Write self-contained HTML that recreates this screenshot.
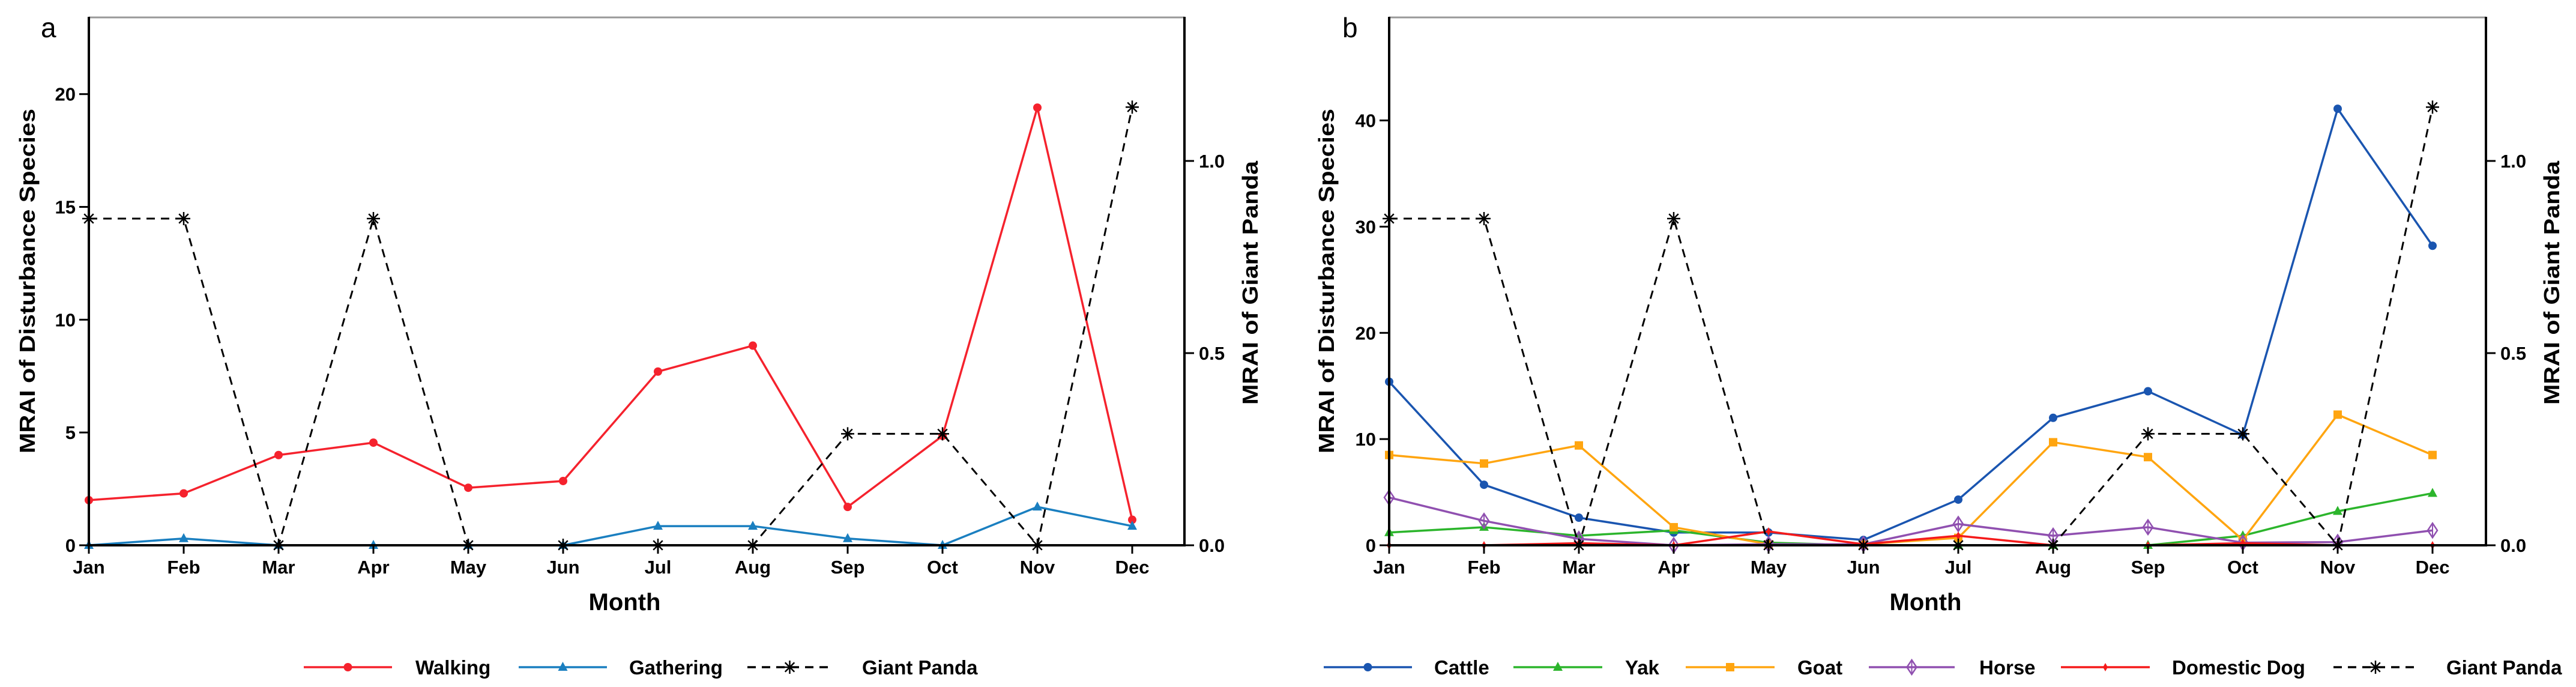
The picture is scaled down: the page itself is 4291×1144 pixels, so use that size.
<!DOCTYPE html>
<html><head><meta charset="utf-8"><style>
html,body{margin:0;padding:0;background:#fff;}
svg{display:block;}
text{font-family:"Liberation Sans",Arial,sans-serif;}
</style></head><body>
<svg id="chart" width="4291" height="1144" viewBox="0 0 4291 1144" xmlns="http://www.w3.org/2000/svg">
<rect width="4291" height="1144" fill="#fff"/>
</svg>
<script>
const months = ["Jan","Feb","Mar","Apr","May","Jun","Jul","Aug","Sep","Oct","Nov","Dec"];
const pandaVals = [0.85,0.85,0,0.85,0,0,0,0,0.29,0.29,0,1.14];
const walkingVals = [2.0,2.3,4.0,4.55,2.55,2.85,7.7,8.85,1.7,4.85,19.4,1.13];
const gatheringVals = [0,0.3,0,0,0,0,0.85,0.85,0.3,0,1.7,0.85];
const cattleVals = [15.4,5.7,2.6,1.2,1.2,0.5,4.3,12.0,14.5,10.4,41.1,28.2];
const yakVals = [1.2,1.7,0.9,1.4,0.25,0,0,0,0,0.9,3.2,4.9];
const goatVals = [8.5,7.7,9.4,1.7,0.1,0.1,0.7,9.7,8.3,0.5,12.3,8.5];
const horseVals = [4.5,2.3,0.6,0,0.1,0.1,2.0,0.9,1.7,0.25,0.3,1.4];
const dogVals = [0,0,0.2,0,1.3,0.1,0.9,0,0,0.2,0,0];
const leftTicksA = [0,5,10,15,20];
const leftTicksB = [0,10,20,30,40];
const rightTicks = [0,0.5,1.0];
const rightTickLabels = ["0.0","0.5","1.0"];

const NS="http://www.w3.org/2000/svg";
const svg=document.getElementById('chart');
function el(tag,attrs,parent,txt){const e=document.createElementNS(NS,tag);for(const k in attrs)e.setAttribute(k,attrs[k]);if(txt!==undefined)e.textContent=txt;(parent||svg).appendChild(e);return e;}

function marker(g,type,x,y,color){
  let m;
  if(type==='circle'){m=el('circle',{cx:x,cy:y,r:7,fill:color},g);}
  else if(type==='tri'){m=el('polygon',{points:`${x},${y-9} ${x-8},${y+6} ${x+8},${y+6}`,fill:color},g);}
  else if(type==='square'){m=el('rect',{x:x-7,y:y-7,width:14,height:14,fill:color},g);}
  else if(type==='diamond'){m=el('polygon',{points:`${x},${y-12} ${x+8},${y} ${x},${y+12} ${x-8},${y}`,fill:'none',stroke:color,'stroke-width':2.5},g);el('line',{x1:x,y1:y-12,x2:x,y2:y+12,stroke:color,'stroke-width':2},g);}
  else if(type==='smalld'){m=el('polygon',{points:`${x},${y-7} ${x+4},${y} ${x},${y+7} ${x-4},${y}`,fill:color},g);}
  else if(type==='star'){m=el('g',{},g);for(let a=0;a<4;a++){const an=a*Math.PI/4;el('line',{x1:x-11*Math.cos(an),y1:y-11*Math.sin(an),x2:x+11*Math.cos(an),y2:y+11*Math.sin(an),stroke:color,'stroke-width':2.5},m);}}
  return m;
}

function panel(cfg){
  const g=el('g',{});
  
  
  const L=cfg.left,R=cfg.right,T=29,B=908,x0=cfg.x0,x1=cfg.x1;
  const xs=i=>x0+(x1-x0)*i/11;
  const yl=v=>B-(B-T)*v/cfg.lmax;
  const yr=v=>B-640*v;
  // top border
  const tb=el('line',{x1:L,y1:T,x2:R,y2:T,stroke:'#999','stroke-width':3},g);
  
  // panel letter
  const pl=el('text',{x:cfg.letterX,y:62,'font-family':'Liberation Serif, serif','font-size':46},g,cfg.letter);
  
  // series
  cfg.series.forEach(s=>{
    const sg=el('g',{},g);
    
    
    const yf=s.right?yr:yl;
    const pts=s.vals.map((v,i)=>xs(i)+','+yf(v)).join(' ');
    const pln=el('polyline',{points:pts,fill:'none',stroke:s.color,'stroke-width':s.dash?3:3.5,'stroke-dasharray':s.dash?'14 10':'none','stroke-linejoin':'round'},sg);
    
    s.vals.forEach((v,i)=>{const m=marker(sg,s.marker,xs(i),yf(v),s.color);
      });
  });
  // axes
  const ax=el('g',{},g);
  el('line',{x1:L,y1:T-1,x2:L,y2:B+2,stroke:'#000','stroke-width':4},ax);
  el('line',{x1:R,y1:T-1,x2:R,y2:B+2,stroke:'#000','stroke-width':4},ax);
  el('line',{x1:L,y1:B,x2:R,y2:B,stroke:'#000','stroke-width':4},ax);
  cfg.lticks.forEach(v=>{const y=yl(v);el('line',{x1:L-16,y1:y,x2:L,y2:y,stroke:'#000','stroke-width':3},ax);
    const t=el('text',{x:L-22,y:y+11,'text-anchor':'end','font-size':31,'font-weight':'bold'},ax,String(v));
    });
  rightTicks.forEach((v,i)=>{const y=yr(v);el('line',{x1:R,y1:y,x2:R+16,y2:y,stroke:'#000','stroke-width':3},ax);
    const t=el('text',{x:R+24,y:y+11,'font-size':31,'font-weight':'bold'},ax,rightTickLabels[i]);
    });
  months.forEach((m,i)=>{const x=xs(i);el('line',{x1:x,y1:B,x2:x,y2:B+14,stroke:'#000','stroke-width':3},ax);
    const t=el('text',{x:x,y:955,'text-anchor':'middle','font-size':31,'font-weight':'bold'},ax,m);
    });
  const yt=el('text',{x:0,y:0,'text-anchor':'middle','font-size':36,'font-weight':'bold',transform:`translate(${cfg.ytX},468) rotate(-90)`,textLength:574,lengthAdjust:'spacingAndGlyphs'},g,'MRAI of Disturbance Species');
  
  const y2=el('text',{x:0,y:0,'text-anchor':'middle','font-size':36,'font-weight':'bold',transform:`translate(${R+122},471) rotate(-90)`,textLength:406,lengthAdjust:'spacingAndGlyphs'},g,'MRAI of Giant Panda');
  
  const xt=el('text',{x:(L+R)/2-20,y:1016,'text-anchor':'middle','font-size':40,'font-weight':'bold'},g,'Month');
  
  // legend
  const lg=el('g',{},g);
  cfg.legend.forEach((e,k)=>{const s=cfg.series[k];const eg=el('g',{},lg);
    
    el('line',{x1:e[0],y1:1111,x2:e[1],y2:1111,stroke:s.color,'stroke-width':3.5,'stroke-dasharray':s.dash?'14 10':'none'},eg);
    marker(eg,s.marker,(e[0]+e[1])/2,1111,s.color);
    el('text',{x:e[2],y:1123,'font-size':33,'font-weight':'bold'},eg,s.label);});
}

panel({name:'panel-a',letter:'a',letterX:68,left:148,right:1973,x0:148,x1:1886,lmax:23.4,lticks:leftTicksA,ytX:58,
  series:[
   {id:'walking',label:'Walking',vals:walkingVals,color:'#f5222d',marker:'circle'},
   {id:'gathering',label:'Gathering',vals:gatheringVals,color:'#1a7fc0',marker:'tri'},
   {id:'panda',label:'Giant Panda',vals:pandaVals,color:'#000',marker:'star',dash:true,right:true}],
  legend:[[506,653,692],[864,1011,1048],[1245,1386,1436]]});

panel({name:'panel-b',letter:'b',letterX:2236,left:2314,right:4141,x0:2314,x1:4052,lmax:49.7,lticks:leftTicksB,ytX:2222,
  series:[
   {id:'cattle',label:'Cattle',vals:cattleVals,color:'#1a55b0',marker:'circle'},
   {id:'yak',label:'Yak',vals:yakVals,color:'#2cb52c',marker:'tri'},
   {id:'goat',label:'Goat',vals:goatVals,color:'#ffa510',marker:'square'},
   {id:'horse',label:'Horse',vals:horseVals,color:'#9050b0',marker:'diamond'},
   {id:'dog',label:'Domestic Dog',vals:dogVals,color:'#f51a1a',marker:'smalld'},
   {id:'panda-b',label:'Giant Panda',vals:pandaVals,color:'#000',marker:'star',dash:true,right:true}],
  legend:[[2205,2352,2389],[2521,2669,2707],[2808,2956,2994],[3113,3256,3297],[3433,3581,3618],[3887,4027,4075]]});
</script>
</body></html>
